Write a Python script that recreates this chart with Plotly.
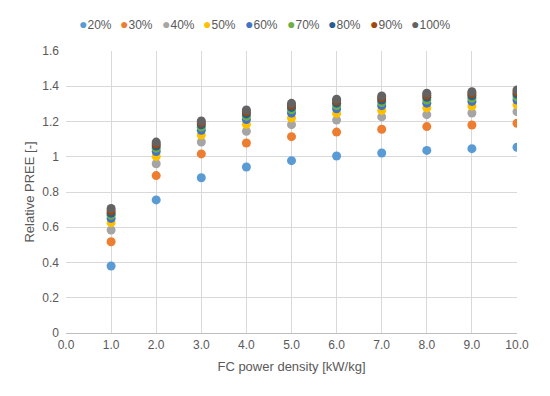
import plotly.graph_objects as go

power_density = [1.0, 2.0, 3.0, 4.0, 5.0, 6.0, 7.0, 8.0, 9.0, 10.0]

series_names = ["20%", "30%", "40%", "50%", "60%", "70%", "80%", "90%", "100%"]

s20 = [0.380, 0.755, 0.881, 0.942, 0.978, 1.004, 1.021, 1.036, 1.046, 1.054]
s30 = [0.518, 0.893, 1.016, 1.078, 1.114, 1.140, 1.156, 1.171, 1.180, 1.190]
s40 = [0.584, 0.960, 1.084, 1.144, 1.182, 1.208, 1.226, 1.239, 1.248, 1.256]
s50 = [0.626, 1.002, 1.123, 1.184, 1.220, 1.246, 1.263, 1.277, 1.288, 1.295]
s60 = [0.650, 1.030, 1.150, 1.211, 1.248, 1.272, 1.290, 1.304, 1.314, 1.322]
s70 = [0.668, 1.048, 1.168, 1.229, 1.266, 1.290, 1.308, 1.322, 1.332, 1.340]
s80 = [0.680, 1.061, 1.181, 1.243, 1.280, 1.304, 1.322, 1.337, 1.346, 1.355]
s90 = [0.693, 1.072, 1.193, 1.255, 1.292, 1.316, 1.334, 1.349, 1.358, 1.367]
s100 = [0.707, 1.083, 1.203, 1.265, 1.303, 1.326, 1.345, 1.360, 1.369, 1.379]

all_series = [s20, s30, s40, s50, s60, s70, s80, s90, s100]

colors = ["#5B9BD5", "#ED7D31", "#A5A5A5", "#FFC000", "#4472C4",
          "#70AD47", "#255E91", "#9E480E", "#636363"]

x_ticks = [0, 1, 2, 3, 4, 5, 6, 7, 8, 9, 10]
y_ticks = [0, 0.2, 0.4, 0.6, 0.8, 1.0, 1.2, 1.4, 1.6]

font_family = "Liberation Sans, Arial, sans-serif"
text_color = "#595959"

# The page body adds an 8px offset; margins compensate so the plot area
# lands where the reference has it.
W, H = 550, 396
ML, MR, MT, MB = 58, 41, 43, 71
plot_w = W - ML - MR
plot_h = H - MT - MB

fig = go.Figure()
for name, vals, col in zip(series_names, all_series, colors):
    fig.add_trace(go.Scatter(
        x=power_density, y=vals, mode="markers", name=name,
        marker=dict(color=col, size=9, line=dict(width=0)),
    ))

# Compact Excel-style legend row across the top
legend_start_px = 68.5
legend_pitch_px = 41.6
legend_y_px = 16
for i, (name, col) in enumerate(zip(series_names, colors)):
    px = legend_start_px + i * legend_pitch_px
    fig.add_annotation(
        xref="paper", yref="paper",
        x=(px - ML) / plot_w, y=(H - MB - legend_y_px) / plot_h,
        xanchor="left", yanchor="middle", showarrow=False,
        text=f"<span style='color:{col};font-size:14px'>●</span>{name}",
        font=dict(size=12, color=text_color, family=font_family),
    )

fig.update_layout(
    width=W, height=H,
    margin=dict(l=ML, r=MR, t=MT, b=MB, autoexpand=False),
    paper_bgcolor="white", plot_bgcolor="white",
    font=dict(family=font_family, color=text_color, size=12),
    showlegend=False,
)

fig.update_xaxes(
    range=[0, 10], tickvals=x_ticks, tickformat=".1f",
    showgrid=True, gridcolor="#D9D9D9", gridwidth=1,
    zeroline=False, showline=True, linecolor="#BFBFBF", linewidth=1,
    ticks="", tickfont=dict(size=12, color=text_color), ticklabelstandoff=1,
    title=dict(text="FC power density [kW/kg]", font=dict(size=13, color=text_color), standoff=10),
)
fig.update_yaxes(
    range=[0, 1.6], tickvals=y_ticks,
    showgrid=True, gridcolor="#D9D9D9", gridwidth=1,
    zeroline=False, showline=False,
    ticks="", tickfont=dict(size=12, color=text_color), ticklabelstandoff=6,
    title=dict(text="Relative PREE [-]", font=dict(size=13, color=text_color), standoff=4),
)

fig.write_html("out.html")
